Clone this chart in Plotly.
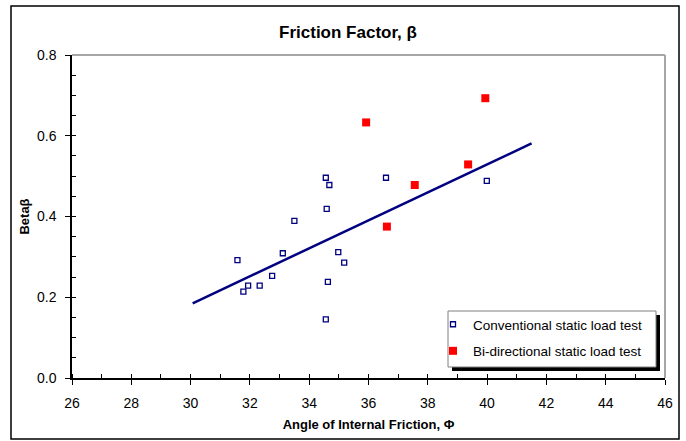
import plotly.graph_objects as go

# Conventional static load tests
conv_phi = [31.58, 31.78, 31.94, 32.33, 32.75, 33.11, 33.50, 34.56, 34.68, 34.59,
            34.98, 35.18, 34.63, 34.56, 36.59, 39.99]
conv_beta = [0.292, 0.214, 0.229, 0.229, 0.253, 0.309, 0.389, 0.496, 0.478, 0.419,
             0.312, 0.286, 0.238, 0.145, 0.496, 0.488]

# Bi-directional static load tests
bidir_phi = [35.92, 39.94, 39.36, 37.56, 36.62]
bidir_beta = [0.633, 0.693, 0.529, 0.478, 0.375]

# Trend line end points
trend_phi = [30.07, 41.50]
trend_beta = [0.185, 0.581]

x_ticks = [26, 28, 30, 32, 34, 36, 38, 40, 42, 44, 46]
y_ticks = [0.0, 0.2, 0.4, 0.6, 0.8]

NAVY = "#000080"
FONT = "Liberation Sans, Arial, sans-serif"

fig = go.Figure()

fig.add_trace(go.Scatter(
    x=trend_phi, y=trend_beta, mode="lines",
    line=dict(color=NAVY, width=2.5), showlegend=False, hoverinfo="skip",
))
fig.add_trace(go.Scatter(
    x=conv_phi, y=conv_beta, mode="markers", name="Conventional static load test",
    legendgroup="conv",
    marker=dict(symbol="square-open", size=5, color=NAVY, line=dict(width=1.3, color=NAVY)),
))
fig.add_trace(go.Scatter(
    x=bidir_phi, y=bidir_beta, mode="markers", name="Bi-directional static load test",
    legendgroup="bidir",
    marker=dict(symbol="square", size=8, color="#ff0000", line=dict(width=0)),
))

L, R, T, B = 72, 21, 55, 63
W, H = 686, 441
pw, ph = W - L - R, H - T - B


def px_to_paper_x(px):
    return (px - L) / pw


def px_to_paper_y(py):
    return (H - B - py) / ph


shapes = [
    # outer chart frame
    dict(type="rect", xref="paper", yref="paper",
         x0=px_to_paper_x(11), x1=px_to_paper_x(679),
         y0=px_to_paper_y(439), y1=px_to_paper_y(6),
         line=dict(color="black", width=1.5), layer="below"),
    # gray plot-area border on top and right
    dict(type="line", xref="paper", yref="paper", x0=0, x1=1, y0=1, y1=1,
         line=dict(color="#a6a6a6", width=2)),
    dict(type="line", xref="paper", yref="paper", x0=1, x1=1, y0=0, y1=1,
         line=dict(color="#a6a6a6", width=2)),
    # legend drop shadow and box
    dict(type="rect", xref="paper", yref="paper",
         x0=px_to_paper_x(452), x1=px_to_paper_x(660),
         y0=px_to_paper_y(371), y1=px_to_paper_y(315),
         fillcolor="black", line=dict(width=0), layer="above"),
    dict(type="rect", xref="paper", yref="paper",
         x0=px_to_paper_x(448), x1=px_to_paper_x(656),
         y0=px_to_paper_y(367), y1=px_to_paper_y(311),
         fillcolor="white", line=dict(color="#808080", width=1), layer="above"),
]

axis_common = dict(
    showgrid=False, zeroline=False, showline=True, linecolor="black", linewidth=1.5,
    ticks="outside", ticklen=5, tickcolor="black", tickwidth=1,
    tickfont=dict(family=FONT, size=14, color="black"),
)

fig.update_layout(
    width=W, height=H,
    margin=dict(l=L, r=R, t=T, b=B),
    paper_bgcolor="white", plot_bgcolor="white",
    font=dict(family=FONT, color="black"),
    title=dict(text="<b>Friction Factor, β</b>", x=px_to_paper_x(348), xref="paper",
               xanchor="center", y=1 - 32 / H, yanchor="middle",
               font=dict(family=FONT, size=17, color="black")),
    xaxis=dict(range=[26, 46], tickvals=x_ticks, ticktext=[str(v) for v in x_ticks],
               minor=dict(dtick=1, ticks="inside", ticklen=4, tickcolor="black"),
               title=dict(text="<b>Angle of Internal Friction, Φ</b>", standoff=10,
                          font=dict(family=FONT, size=13, color="black")),
               ticklabelstandoff=6,
               **axis_common),
    yaxis=dict(range=[0, 0.8], tickvals=y_ticks, ticktext=[f"{v:.1f}" for v in y_ticks],
               minor=dict(dtick=0.05, ticks="inside", ticklen=4, tickcolor="black"),
               title=dict(text="<b>Betaβ</b>", standoff=4,
                          font=dict(family=FONT, size=13, color="black")),
               ticklabelstandoff=6,
               **axis_common),
    # overlay axes give the major ticks their inner half so they cross the axis lines
    xaxis2=dict(overlaying="x", anchor="y", range=[26, 46], tickvals=x_ticks,
                showticklabels=False, ticks="inside", ticklen=5, tickcolor="black",
                showgrid=False, zeroline=False, showline=False),
    yaxis2=dict(overlaying="y", anchor="x", range=[0, 0.8], tickvals=y_ticks,
                showticklabels=False, ticks="inside", ticklen=5, tickcolor="black",
                showgrid=False, zeroline=False, showline=False),
    legend=dict(x=px_to_paper_x(433), y=px_to_paper_y(309), xanchor="left", yanchor="top",
                bgcolor="rgba(0,0,0,0)", borderwidth=0,
                font=dict(family=FONT, size=13.5, color="black"),
                tracegroupgap=6, itemsizing="trace"),
    shapes=shapes,
)

fig.write_html("out.html")
